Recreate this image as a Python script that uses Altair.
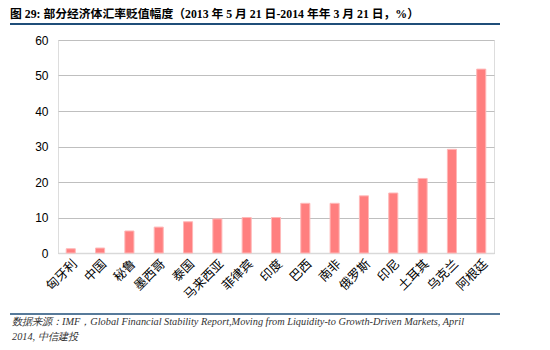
import altair as alt
import pandas as pd

countries = ["匈牙利", "中国", "秘鲁", "墨西哥", "泰国", "马来西亚", "菲律宾", "印度",
             "巴西", "南非", "俄罗斯", "印尼", "土耳其", "乌克兰", "阿根廷"]
values = [1.2, 1.4, 6.2, 7.3, 8.8, 9.6, 10.0, 10.0, 14.0, 14.0, 16.1, 16.9, 21.0, 29.2, 51.8]
y_ticks = [0, 10, 20, 30, 40, 50, 60]

title_text = "图 29: 部分经济体汇率贬值幅度（2013 年 5 月 21 日-2014 年年 3 月 21 日，%）"
source_line1 = "数据来源：IMF，Global Financial Stability Report,Moving from Liquidity-to Growth-Driven Markets, April"
source_line2 = "2014, 中信建投"

df = pd.DataFrame({"country": countries, "value": values})

bars = alt.Chart(df).mark_bar(
    color="#FF7F7F", stroke="#FFB8B8", strokeWidth=1
).encode(
    x=alt.X("country:N", sort=countries,
            scale=alt.Scale(paddingInner=0.69, paddingOuter=0.28),
            axis=alt.Axis(title=None, labelAngle=-45, labelFontSize=12.5,
                          labelFont="Noto Sans CJK SC", labelColor="#000000",
                          ticks=False, domainColor="#D9D9D9", domainWidth=1.5,
                          labelPadding=4)),
    y=alt.Y("value:Q", scale=alt.Scale(domain=[0, 60], nice=False),
            axis=alt.Axis(title=None, values=y_ticks, labelFontSize=12,
                          labelFont="Liberation Sans", labelColor="#000000",
                          ticks=False, domain=False, gridColor="#BFBFBF",
                          gridWidth=1, labelPadding=10))
)

title = alt.Chart(pd.DataFrame({"t": [title_text]})).mark_text(
    align="left", baseline="middle", fontSize=11.8, fontWeight="bold",
    font="Liberation Serif, Noto Sans CJK SC", color="#000000"
).encode(text="t:N", x=alt.value(-48), y=alt.value(-26))

top_rule = alt.Chart(pd.DataFrame({"a": [0]})).mark_rule(
    color="#1F4E79", strokeWidth=2
).encode(x=alt.value(-48), x2=alt.value(442), y=alt.value(-16))

bottom_rule = alt.Chart(pd.DataFrame({"a": [0]})).mark_rule(
    color="#1F4E79", strokeWidth=1.5
).encode(x=alt.value(-48), x2=alt.value(442), y=alt.value(274))

src1 = alt.Chart(pd.DataFrame({"t": [source_line1]})).mark_text(
    align="left", baseline="middle", fontSize=10.3, fontStyle="italic",
    font="Liberation Serif", color="#333333"
).encode(text="t:N", x=alt.value(-46), y=alt.value(282))

src2 = alt.Chart(pd.DataFrame({"t": [source_line2]})).mark_text(
    align="left", baseline="middle", fontSize=10.3, fontStyle="italic",
    font="Liberation Serif", color="#333333"
).encode(text="t:N", x=alt.value(-46), y=alt.value(297))

chart = alt.layer(bars, title, top_rule, bottom_rule, src1, src2).properties(
    width=436, height=213,
    autosize=alt.AutoSizeParams(type="none"),
    padding={"left": 58, "top": 40, "right": 56, "bottom": 97}
).configure_view(stroke=None).configure(background="#FFFFFF")

chart.save("out.html", embed_options={"renderer": "svg", "actions": False})
